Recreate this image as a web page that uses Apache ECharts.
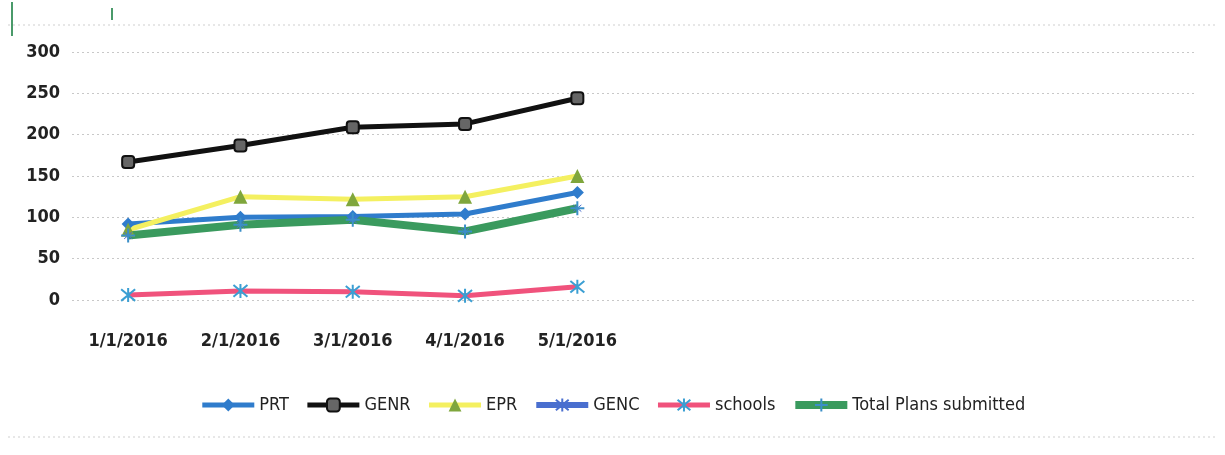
<!DOCTYPE html>
<html>
<head>
<meta charset="utf-8">
<script src="https://cdn.jsdelivr.net/npm/echarts@6/dist/echarts.min.js"></script>
<style>
  html, body { margin: 0; padding: 0; background: #fff; }
  #main { width: 1225px; height: 455px; }
</style>
</head>
<body>
<div id="main"></div>
<script>
// categories (the axis has room for 10 months, only 5 filled)
var months = ['1/1/2016', '2/1/2016', '3/1/2016', '4/1/2016', '5/1/2016', '', '', '', '', ''];
var yTicks = [0, 50, 100, 150, 200, 250, 300];

// series values
var prt     = [92, 100, 101, 104, 130];
var genr    = [167, 187, 209, 213, 244];
var epr     = [85, 125, 122, 125, 150];
var genc    = [78, 91, 97, 83, 111];
var schools = [6, 11, 10, 5, 16];
var total   = [78, 91, 97, 83, 111];

var asterisk = 'path://M0,0L10,10M10,0L0,10M5,-1L5,11';
var plusBar = 'path://M0,5L10,5M5,-3L5,13';

var labelFont = 'Liberation Sans Narrow, DejaVu Sans Condensed, Arial, sans-serif';

var myChart = echarts.init(document.getElementById('main'));
var option = {
    backgroundColor: '#fff',
    animation: false,
    grid: { left: 72, right: 30, top: 52, bottom: 155 },
    legend: {
        bottom: 36,
        left: 'center',
        itemWidth: 52,
        itemHeight: 16,
        itemGap: 16,
        textStyle: { fontFamily: labelFont, fontSize: 18, color: '#222' },
        data: [
            { name: 'PRT', lineStyle: { width: 5 } },
            { name: 'GENR', lineStyle: { width: 5 } },
            { name: 'EPR', lineStyle: { width: 5 } },
            { name: 'GENC', lineStyle: { width: 6 } },
            { name: 'schools', lineStyle: { width: 5 } },
            { name: 'Total Plans submitted', lineStyle: { width: 8 } }
        ]
    },
    xAxis: {
        type: 'category',
        data: months,
        boundaryGap: true,
        axisLine: { show: false },
        axisTick: { show: false },
        axisLabel: { margin: 32, fontFamily: labelFont, fontSize: 18, fontWeight: 'bold', color: '#222' }
    },
    yAxis: {
        type: 'value',
        min: 0,
        max: 300,
        interval: 50,
        axisLine: { show: false },
        axisTick: { show: false },
        axisLabel: {
            margin: 12, fontFamily: labelFont, fontSize: 18, fontWeight: 'bold', color: '#222',
            formatter: function (v) { return yTicks.indexOf(v) >= 0 ? String(v) : ''; }
        },
        splitLine: { lineStyle: { color: '#c8c8c8', type: [2, 3], width: 1 } }
    },
    graphic: [
        { type: 'line', shape: { x1: 8, y1: 25, x2: 1215, y2: 25 }, style: { stroke: '#cfcfcf', lineDash: [2, 3] } },
        { type: 'line', shape: { x1: 8, y1: 437, x2: 1215, y2: 437 }, style: { stroke: '#cfcfcf', lineDash: [2, 3] } },
        { type: 'line', shape: { x1: 12, y1: 2, x2: 12, y2: 36 }, style: { stroke: '#4a9a6a', lineWidth: 2 } },
        { type: 'line', shape: { x1: 112, y1: 8, x2: 112, y2: 20 }, style: { stroke: '#4a9a6a', lineWidth: 2 } }
    ],
    series: [
        {
            name: 'PRT', type: 'line', data: prt,
            symbol: 'diamond', symbolSize: 13,
            lineStyle: { color: '#2f7ccc', width: 5 },
            itemStyle: { color: '#2f7ccc' }
        },
        {
            name: 'GENR', type: 'line', data: genr,
            symbol: 'roundRect', symbolSize: 12,
            lineStyle: { color: '#111', width: 5 },
            itemStyle: { color: '#666', borderColor: '#111', borderWidth: 2 }
        },
        {
            name: 'EPR', type: 'line', data: epr,
            symbol: 'triangle', symbolSize: 14,
            lineStyle: { color: '#f4f060', width: 5 },
            itemStyle: { color: '#7fa63c' }
        },
        {
            name: 'GENC', type: 'line', data: genc,
            symbol: asterisk, symbolSize: 8,
            lineStyle: { color: '#4a6fcf', width: 5 },
            itemStyle: { color: '#4a6fcf', borderColor: '#4a6fcf', borderWidth: 1 }
        },
        {
            name: 'schools', type: 'line', data: schools,
            symbol: asterisk, symbolSize: 14,
            lineStyle: { color: '#f0527c', width: 5 },
            itemStyle: { color: '#3b9fd3', borderColor: '#3b9fd3', borderWidth: 2 }
        },
        {
            name: 'Total Plans submitted', type: 'line', data: total,
            symbol: plusBar, symbolSize: 14,
            lineStyle: { color: '#3a9a5e', width: 8 },
            itemStyle: { color: '#3b8fc8', borderColor: '#3b8fc8', borderWidth: 2 }
        }
    ]
};
myChart.setOption(option);
</script>
</body>
</html>
